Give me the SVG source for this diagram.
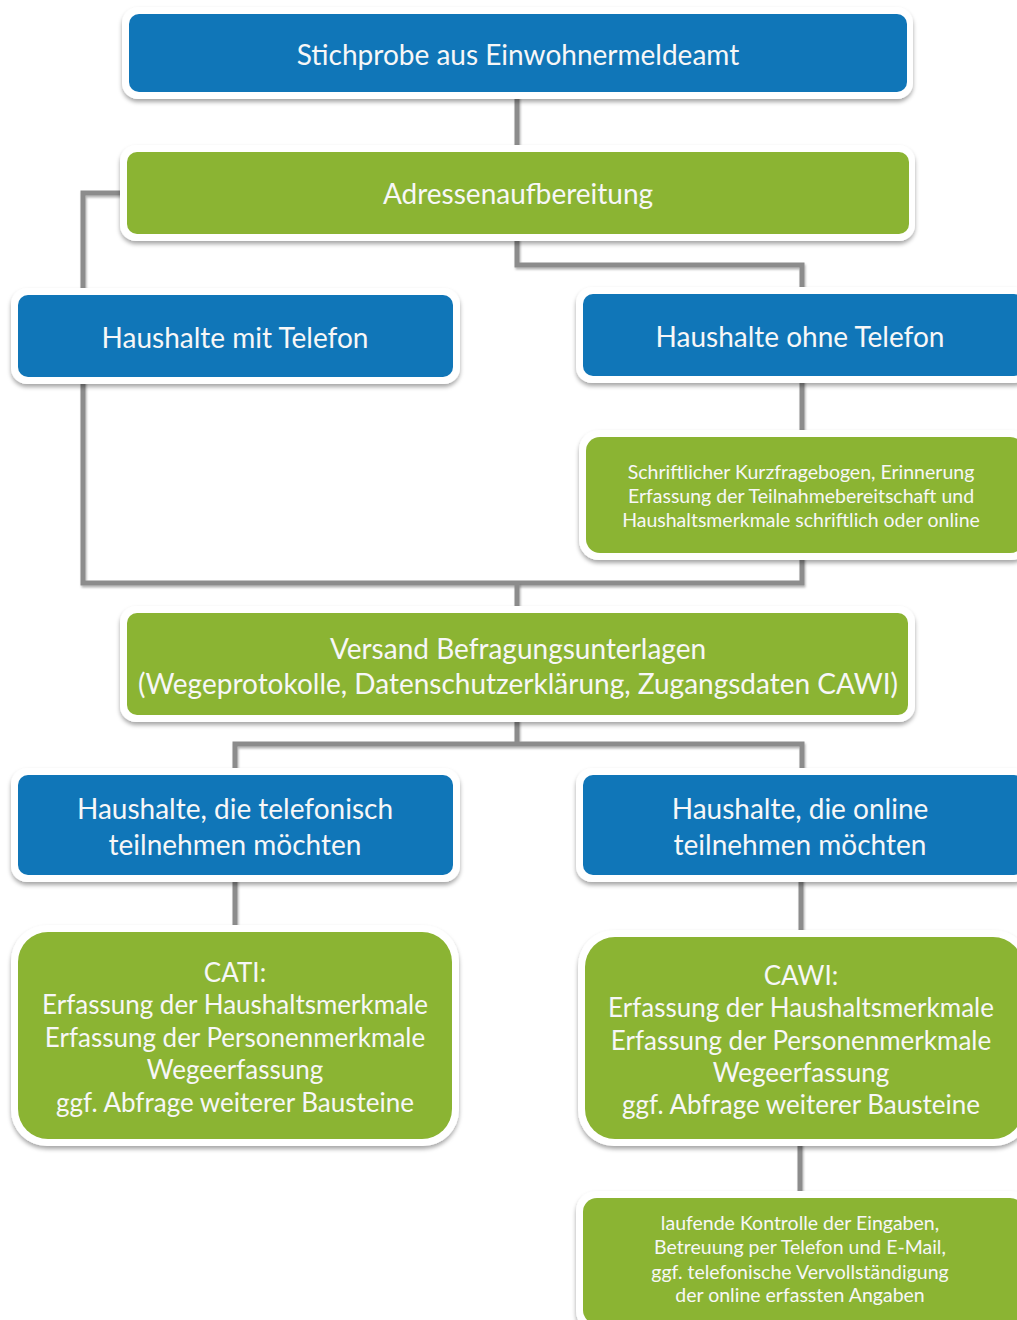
<svg xmlns="http://www.w3.org/2000/svg" width="1017" height="1320" viewBox="0 0 1017 1320">
<defs>
<filter id="sh" x="-5%" y="-10%" width="110%" height="130%">
<feDropShadow dx="0" dy="3" stdDeviation="2" flood-color="#000" flood-opacity="0.35"/>
</filter>
<filter id="lsh" filterUnits="userSpaceOnUse" x="0" y="0" width="1017" height="1320">
<feDropShadow dx="1" dy="2" stdDeviation="1" flood-color="#000" flood-opacity="0.3"/>
</filter>
</defs>
<style>
.frame{fill:#ffffff;filter:url(#sh)}
.blue{fill:#1076B8}
.green{fill:#8BB433}
.t{font-family:Lato,"Liberation Sans",sans-serif;fill:#f7f7f7;text-anchor:middle}
.big{font-size:28px}
.mid{font-size:26px}
.small{font-size:19.5px}
.conn{fill:none;stroke:#8c8c8c;stroke-width:5;filter:url(#lsh)}
</style>
<rect width="1017" height="1320" fill="#ffffff"/>

<g id="connectors">
<path class="conn" d="M517,95 V148"/>
<path class="conn" d="M123,193 H83 V292"/>
<path class="conn" d="M517,238 V265 H802 V291"/>
<path class="conn" d="M802,380 V434"/>
<path class="conn" d="M83,381 V583 H802 V557"/>
<path class="conn" d="M517,583 V610"/>
<path class="conn" d="M517,718 V744 M235,772 V744 H802 V772"/>
<path class="conn" d="M235,878 V929"/>
<path class="conn" d="M801,878 V934"/>
<path class="conn" d="M800,1143 V1195"/>
</g>

<g id="n1">
<rect class="frame" x="122" y="7" width="791" height="92" rx="16"/>
<rect class="blue" x="129" y="14" width="778" height="78" rx="10"/>
<text class="t big" x="518" y="65">Stichprobe aus Einwohnermeldeamt</text>
</g>

<g id="n2">
<rect class="frame" x="120" y="145" width="795" height="96" rx="16"/>
<rect class="green" x="127" y="152" width="782" height="82" rx="10"/>
<text class="t big" x="518" y="204">Adressenaufbereitung</text>
</g>

<g id="n3">
<rect class="frame" x="11" y="288" width="449" height="96" rx="16"/>
<rect class="blue" x="18" y="295" width="435" height="82" rx="10"/>
<text class="t big" x="235" y="348">Haushalte mit Telefon</text>
</g>

<g id="n4">
<rect class="frame" x="576" y="287" width="455" height="96" rx="16"/>
<rect class="blue" x="583" y="294" width="441" height="82" rx="10"/>
<text class="t big" x="800" y="347">Haushalte ohne Telefon</text>
</g>

<g id="n5">
<rect class="frame" x="579" y="430" width="452" height="130" rx="20"/>
<rect class="green" x="586" y="437" width="438" height="116" rx="14"/>
<text class="t small" x="801" y="479">Schriftlicher Kurzfragebogen, Erinnerung</text>
<text class="t small" x="801" y="503">Erfassung der Teilnahmebereitschaft und</text>
<text class="t small" x="801" y="527">Haushaltsmerkmale schriftlich oder online</text>
</g>

<g id="n6">
<rect class="frame" x="120" y="606" width="795" height="116" rx="16"/>
<rect class="green" x="127" y="613" width="781" height="102" rx="10"/>
<text class="t big" x="518" y="659">Versand Befragungsunterlagen</text>
<text class="t big" x="518" y="694">(Wegeprotokolle, Datenschutzerklärung, Zugangsdaten CAWI)</text>
</g>

<g id="n7">
<rect class="frame" x="11" y="768" width="449" height="114" rx="16"/>
<rect class="blue" x="18" y="775" width="435" height="100" rx="10"/>
<text class="t big" x="235" y="819">Haushalte, die telefonisch</text>
<text class="t big" x="235" y="855">teilnehmen möchten</text>
</g>

<g id="n8">
<rect class="frame" x="576" y="768" width="455" height="114" rx="16"/>
<rect class="blue" x="583" y="775" width="441" height="100" rx="10"/>
<text class="t big" x="800" y="819">Haushalte, die online</text>
<text class="t big" x="800" y="855">teilnehmen möchten</text>
</g>

<g id="n9">
<rect class="frame" x="11" y="925" width="448" height="221" rx="36"/>
<rect class="green" x="18" y="932" width="434" height="207" rx="30"/>
<text class="t mid" x="235" y="982">CATI:</text>
<text class="t mid" x="235" y="1014">Erfassung der Haushaltsmerkmale</text>
<text class="t mid" x="235" y="1047">Erfassung der Personenmerkmale</text>
<text class="t mid" x="235" y="1079">Wegeerfassung</text>
<text class="t mid" x="235" y="1112">ggf. Abfrage weiterer Bausteine</text>
</g>

<g id="n10">
<rect class="frame" x="578" y="930" width="452" height="216" rx="36"/>
<rect class="green" x="585" y="937" width="438" height="202" rx="30"/>
<text class="t mid" x="801" y="985">CAWI:</text>
<text class="t mid" x="801" y="1017">Erfassung der Haushaltsmerkmale</text>
<text class="t mid" x="801" y="1050">Erfassung der Personenmerkmale</text>
<text class="t mid" x="801" y="1082">Wegeerfassung</text>
<text class="t mid" x="801" y="1114">ggf. Abfrage weiterer Bausteine</text>
</g>

<g id="n11">
<rect class="frame" x="576" y="1191" width="455" height="140" rx="20"/>
<rect class="green" x="583" y="1198" width="441" height="126" rx="14"/>
<text class="t small" x="800" y="1230">laufende Kontrolle der Eingaben,</text>
<text class="t small" x="800" y="1254">Betreuung per Telefon und E-Mail,</text>
<text class="t small" x="800" y="1279">ggf. telefonische Vervollständigung</text>
<text class="t small" x="800" y="1302">der online erfassten Angaben</text>
</g>
</svg>
